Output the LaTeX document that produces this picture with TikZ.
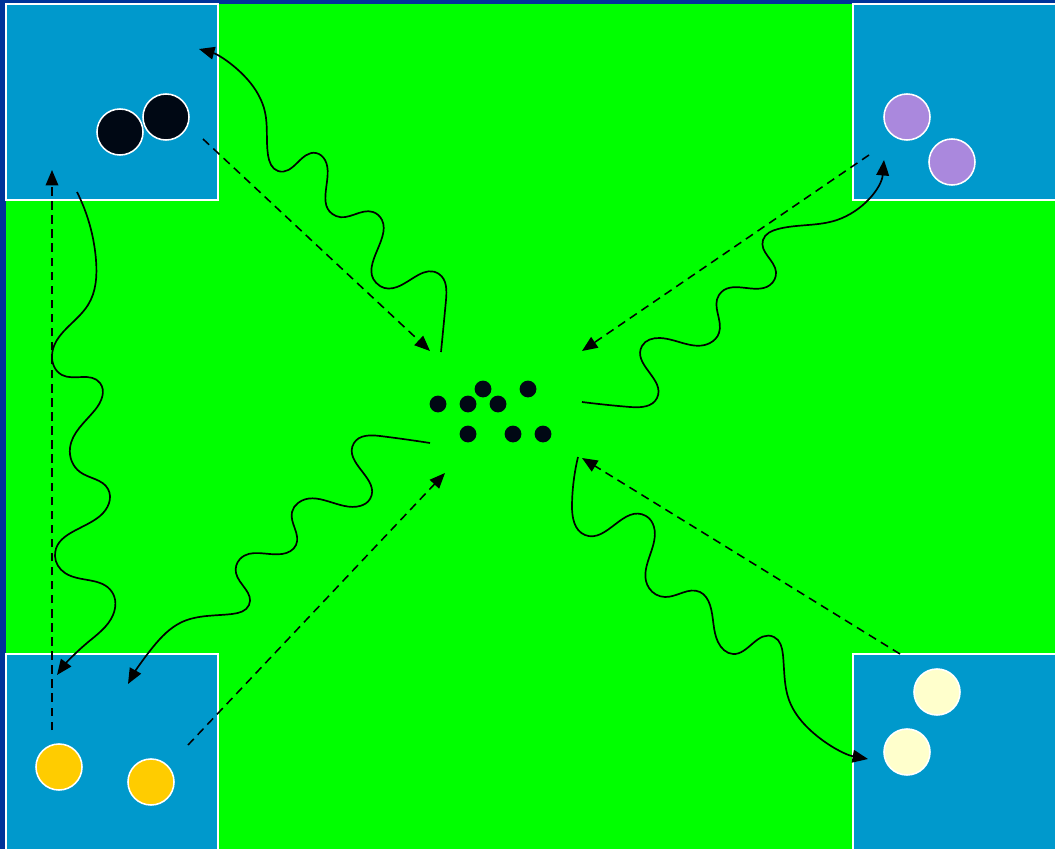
\documentclass[tikz,border=0pt]{standalone}
\usepackage{tikz}
\usetikzlibrary{arrows.meta, hobby}
\definecolor{framenavy}{HTML}{003399}
\definecolor{fieldgreen}{HTML}{00FF00}
\definecolor{padblue}{HTML}{0099CC}
\definecolor{ballblack}{HTML}{000814}
\definecolor{ballpurple}{HTML}{AA88DD}
\definecolor{ballyellow}{HTML}{FFCC00}
\definecolor{ballcream}{HTML}{FFFFCC}

\begin{document}
\begin{tikzpicture}[x=0.025cm, y=-0.025cm,
    pad/.style={fill=padblue, draw=white, line width=1.1pt},
    ball/.style={circle, draw=white, line width=1.1pt, minimum size=1.15cm, inner sep=0pt},
    dot/.style={circle, fill=ballblack, minimum size=0.42cm, inner sep=0pt},
    run/.style={dashed, dash pattern=on 6pt off 4pt, line width=1.1pt,
                -{Triangle[length=11pt, width=9pt]}},
    wave/.style={line width=1.2pt, use Hobby shortcut, -{Triangle[length=11pt, width=9pt]}},
]
    \useasboundingbox (0,0) rectangle (1055,849);
    \clip (0,0) rectangle (1055,849);

    % Field
    \fill[framenavy] (0,0) rectangle (1055,849);
    \fill[fieldgreen] (6,4) rectangle (1060,855);

    % Corner pads
    \draw[pad] (6,4) rectangle (218,200);
    \draw[pad] (853,4) rectangle (1065,200);
    \draw[pad] (6,654) rectangle (218,860);
    \draw[pad] (853,654) rectangle (1065,860);

    % Players
    \node[ball, fill=ballblack] (tl1) at (120,132) {};
    \node[ball, fill=ballblack] (tl2) at (166,117) {};
    \node[ball, fill=ballpurple] (tr1) at (907,117) {};
    \node[ball, fill=ballpurple] (tr2) at (952,162) {};
    \node[ball, fill=ballyellow] (bl1) at (59,767) {};
    \node[ball, fill=ballyellow] (bl2) at (151,782) {};
    \node[ball, fill=ballcream] (br1) at (937,692) {};
    \node[ball, fill=ballcream] (br2) at (907,752) {};

    % Balls in the middle
    \foreach \x/\y [count=\i] in {438/404, 468/404, 483/389, 498/404,
                                   528/389, 468/434, 513/434, 543/434} {
        \node[dot] (m\i) at (\x,\y) {};
    }

    % Arrow ends
    \coordinate (tlOut) at (203,139);
    \coordinate (tlHit) at (430,351);
    \coordinate (trOut) at (869,155);
    \coordinate (trHit) at (582,351);
    \coordinate (blOut) at (188,745);
    \coordinate (blHit) at (445,473);
    \coordinate (brOut) at (900,654);
    \coordinate (brHit) at (582,458);
    \coordinate (lfOut) at (52,730);
    \coordinate (lfHit) at (52,170);
    \coordinate (tlBack) at (199,49);
    \coordinate (trBack) at (884,160);
    \coordinate (blBack) at (128,684);
    \coordinate (brBack) at (868,759);
    \coordinate (lfBack) at (57,675);

    % Passes in
    \draw[run] (tlOut) -- (tlHit);
    \draw[run] (trOut) -- (trHit);
    \draw[run] (blOut) -- (blHit);
    \draw[run] (brOut) -- (brHit);
    \draw[run] (lfOut) -- (lfHit);

    % Dribbles back
    \draw[wave] (441,352) .. (446,300) .. (439,274) .. (397,287) .. (380,286)
        .. (382,220) .. (373,212) .. (336,216) .. (325,160) .. (316,153)
        .. (278,171) .. (268,155) .. (265,112) .. (248,80) .. (tlBack);
    \draw[wave] (582,402) .. (630,407) .. (657,398) .. (642,346) .. (660,338)
        .. (710,343) .. (719,333) .. (719,295) .. (770,285) .. (776,272)
        .. (763,240) .. (778,229) .. (837,220) .. (trBack);
    \draw[wave] (430,443) .. (380,436) .. (354,443) .. (370,499) .. (360,506)
        .. (298,503) .. (292,512) .. (296,545) .. (282,554) .. (240,559)
        .. (236,573) .. (249,605) .. (232,614) .. (182,622) .. (153,647) .. (blBack);
    \draw[wave] (578,457) .. (572,505) .. (585,535) .. (646,516) .. (654,527)
        .. (649,588) .. (665,597) .. (700,592) .. (710,605) .. (718,642)
        .. (733,654) .. (774,637) .. (783,655) .. (789,700) .. (808,728) .. (brBack);
    \draw[wave] (77,192) .. (96,260) .. (88,305) .. (52,355) .. (62,375)
        .. (100,383) .. (95,410) .. (70,448) .. (80,472) .. (108,489)
        .. (100,516) .. (55,556) .. (65,573) .. (112,592) .. (113,615)
        .. (87,643) .. (lfBack);
\end{tikzpicture}
\end{document}
